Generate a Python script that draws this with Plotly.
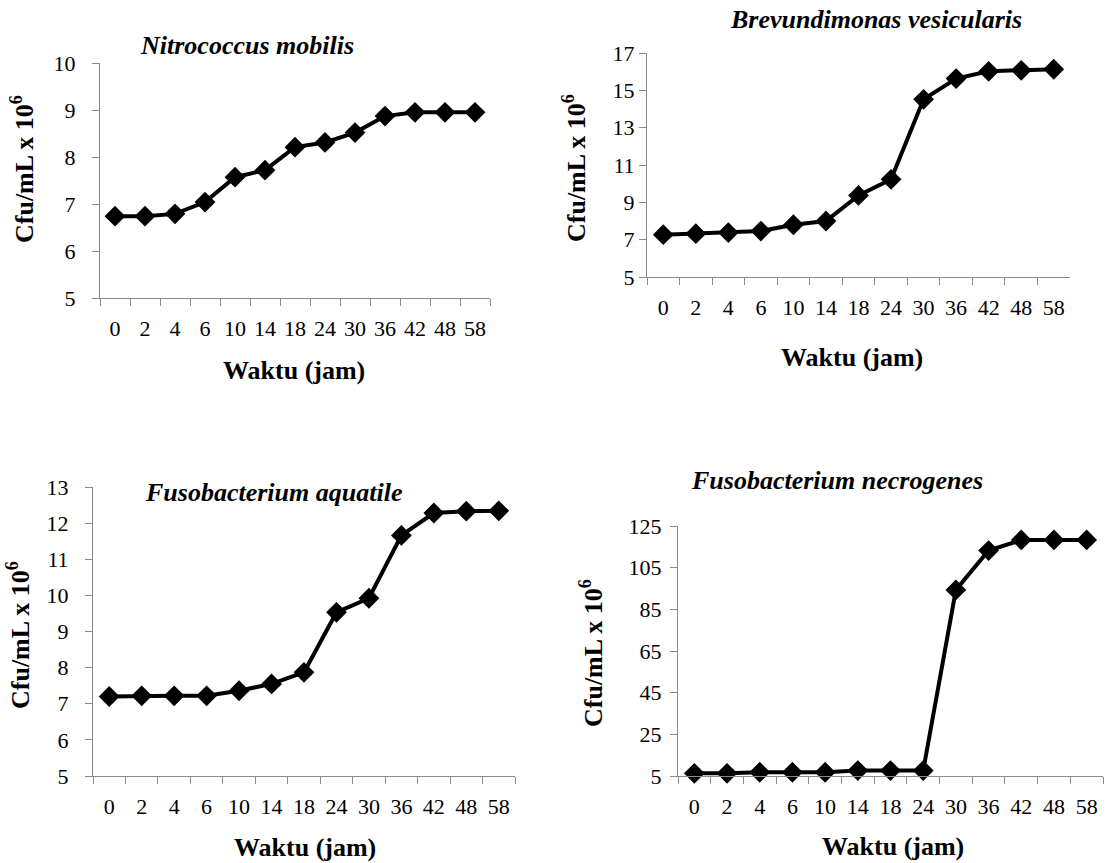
import plotly.graph_objects as go

W, H = 1107, 863

categories = ["0", "2", "4", "6", "10", "14", "18", "24", "30", "36", "42", "48", "58"]
nitrococcus = [6.74, 6.74, 6.79, 7.04, 7.57, 7.72, 8.21, 8.31, 8.52, 8.87, 8.95, 8.95, 8.95]
brevundimonas = [7.27, 7.32, 7.38, 7.46, 7.80, 8.00, 9.37, 10.23, 14.52, 15.63, 16.02, 16.07, 16.13]
aquatile = [7.20, 7.22, 7.22, 7.22, 7.36, 7.55, 7.87, 9.53, 9.92, 11.66, 12.28, 12.33, 12.34]
necrogenes = [6.3, 6.3, 6.8, 6.8, 6.8, 7.6, 7.6, 7.6, 94.3, 113.2, 118.3, 118.3, 118.3]

titles = ["Nitrococcus mobilis", "Brevundimonas vesicularis",
          "Fusobacterium aquatile", "Fusobacterium necrogenes"]
x_title = "Waktu (jam)"
y_title = "Cfu/mL x 10<sup>6</sup>"

series = [nitrococcus, brevundimonas, aquatile, necrogenes]
y_ranges = [(5, 10, 1), (5, 17, 2), (5, 13, 1), (5, 125, 20)]

# target positions in window pixels
boxes = [(100, 490, 63, 298), (647, 1070, 53, 277), (93, 515, 487, 776), (678, 1103, 526, 776)]
title_pos = [(247, 45), (876, 19), (273, 492), (837, 480)]
xtitle_pos = [(294, 370), (852, 357), (305, 847), (893, 846)]
ytitle_pos = [(23, 169), (574, 168), (18, 635), (591, 653)]
ylabel_standoff = [12, 0, 12, 4]


def fx(px):
    return min(1.0, max(0.0, px / W))


def fy(py):
    return min(1.0, max(0.0, 1 - py / H))


FONT = "Liberation Serif, Times New Roman, Times, serif"
AX = "#8a8a8a"

fig = go.Figure()
annotations = []
for i in range(4):
    n = "" if i == 0 else str(i + 1)
    fig.add_trace(go.Scatter(
        x=categories, y=series[i], mode="lines+markers",
        line=dict(color="black", width=4),
        marker=dict(symbol="diamond", size=16, color="black"),
        xaxis="x" + n, yaxis="y" + n, cliponaxis=False, showlegend=False))
    x0, x1, yt, yb = boxes[i]
    lo, hi, dt = y_ranges[i]
    fig.layout["xaxis" + n] = dict(
        domain=[fx(x0), fx(x1)], anchor="y" + n, type="category",
        categoryorder="array", categoryarray=categories,
        range=[-0.5, len(categories) - 0.5], automargin=False,
        showline=True, linecolor=AX, linewidth=1, showgrid=False, zeroline=False,
        ticks="outside", tickson="boundaries", ticklen=7, tickcolor=AX, tickwidth=1,
        tickangle=0, ticklabelstandoff=11,
        tickfont=dict(family=FONT, size=22, color="black"))
    fig.layout["yaxis" + n] = dict(
        domain=[fy(yb), fy(yt)], anchor="x" + n,
        range=[lo, hi], dtick=dt, tick0=lo, automargin=False,
        showline=True, linecolor=AX, linewidth=1, showgrid=False, zeroline=False,
        ticks="outside", ticklen=7, tickcolor=AX, tickwidth=1,
        ticklabelstandoff=ylabel_standoff[i],
        tickfont=dict(family=FONT, size=22, color="black"))
    tx, ty = title_pos[i]
    annotations.append(dict(text="<b><i>%s</i></b>" % titles[i], x=fx(tx), y=fy(ty),
                            xref="paper", yref="paper", showarrow=False,
                            xanchor="center", yanchor="middle",
                            font=dict(family=FONT, size=26, color="black")))
    ax_, ay_ = xtitle_pos[i]
    annotations.append(dict(text="<b>%s</b>" % x_title, x=fx(ax_), y=fy(ay_),
                            xref="paper", yref="paper", showarrow=False,
                            xanchor="center", yanchor="middle",
                            font=dict(family=FONT, size=26, color="black")))
    yx, yy = ytitle_pos[i]
    annotations.append(dict(text="<b>%s</b>" % y_title, x=fx(yx), y=fy(yy),
                            xref="paper", yref="paper", showarrow=False, textangle=-90,
                            xanchor="center", yanchor="middle",
                            font=dict(family=FONT, size=26, color="black")))

fig.update_layout(width=W, height=H, margin=dict(l=0, r=0, t=0, b=0, pad=0),
                  paper_bgcolor="white", plot_bgcolor="white",
                  annotations=annotations)

# pin the figure to the top-left corner of the page (no body margin)
post = ("document.documentElement.style.margin='0';"
        "document.body.style.margin='0';document.body.style.padding='0';"
        "document.body.style.overflow='hidden';"
        "var d=document.getElementById('{plot_id}');"
        "d.style.position='absolute';d.style.left='0px';d.style.top='0px';")
fig.write_html("out.html", post_script=post, config={"displayModeBar": False})
